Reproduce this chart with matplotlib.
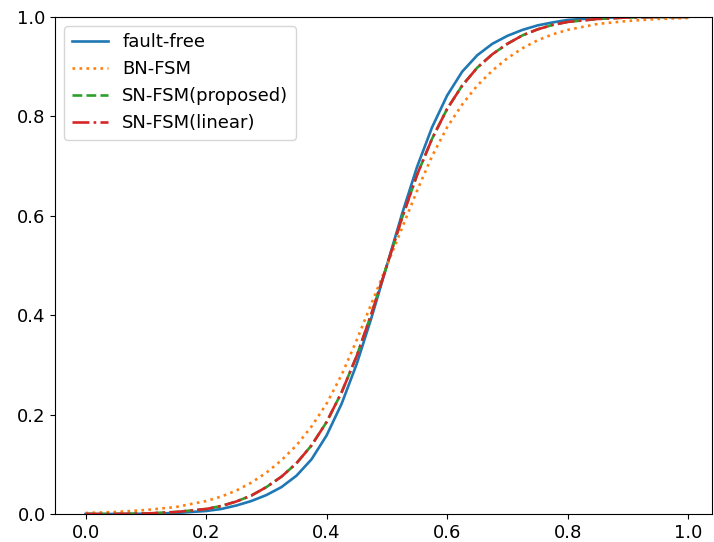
import numpy as np
import matplotlib
matplotlib.use('Agg')
import matplotlib.pyplot as plt

x = [0.0, 0.05, 0.1, 0.15, 0.2, 0.225, 0.25, 0.275, 0.3, 0.325, 0.35, 0.375, 0.4,
     0.425, 0.45, 0.475, 0.5, 0.525, 0.55, 0.575, 0.6, 0.625, 0.65, 0.675,
     0.7, 0.725, 0.75, 0.775, 0.8, 0.85, 0.9, 0.95, 1.0]

fault_free = [0.0, 0.0, 0.0005, 0.002, 0.006, 0.010, 0.017, 0.026, 0.038, 0.054,
              0.077, 0.11, 0.158, 0.222, 0.302, 0.397, 0.5, 0.603, 0.698, 0.778,
              0.842, 0.89, 0.923, 0.946, 0.962, 0.974, 0.983, 0.989, 0.994, 0.998,
              1.0, 1.0, 1.0]

bn_fsm = [0.002, 0.004, 0.008, 0.014, 0.026, 0.035, 0.047, 0.063, 0.083, 0.108,
          0.138, 0.176, 0.222, 0.28, 0.35, 0.425, 0.5, 0.575, 0.65, 0.72, 0.778,
          0.824, 0.862, 0.892, 0.917, 0.937, 0.953, 0.965, 0.974, 0.986, 0.992,
          0.996, 0.998]

sn_proposed = [0.0, 0.0, 0.001, 0.004, 0.010, 0.016, 0.025, 0.037, 0.054, 0.075,
               0.102, 0.138, 0.185, 0.245, 0.318, 0.405, 0.5, 0.595, 0.682, 0.755,
               0.815, 0.862, 0.898, 0.925, 0.946, 0.963, 0.975, 0.984, 0.99, 0.996,
               0.999, 1.0, 1.0]

sn_linear = [0.0, 0.0, 0.001, 0.004, 0.010, 0.016, 0.025, 0.037, 0.054, 0.075,
             0.102, 0.138, 0.185, 0.245, 0.318, 0.405, 0.5, 0.595, 0.682, 0.755,
             0.815, 0.862, 0.898, 0.925, 0.946, 0.963, 0.975, 0.984, 0.99, 0.996,
             0.999, 1.0, 1.0]

plt.rcParams['font.size'] = 13

fig = plt.figure(figsize=(7.14, 5.42), dpi=100)
ax = fig.add_axes([0.0776, 0.0517, 0.92, 0.917])

ax.plot(x, fault_free, '-', color='#1f77b4', lw=1.9, label='fault-free')
ax.plot(x, bn_fsm, ':', color='#ff7f0e', lw=1.9, label='BN-FSM')
ax.plot(x, sn_proposed, '--', color='#2ca02c', lw=1.9, label='SN-FSM(proposed)')
ax.plot(x, sn_linear, '-.', color='#d62728', lw=1.9, label='SN-FSM(linear)')

ax.set_xlim(-0.05, 1.04)
ax.set_ylim(0, 1)
ax.tick_params(labelsize=13)
ax.legend(loc='upper left', fontsize=13)

fig.savefig('out.png', dpi=100)
